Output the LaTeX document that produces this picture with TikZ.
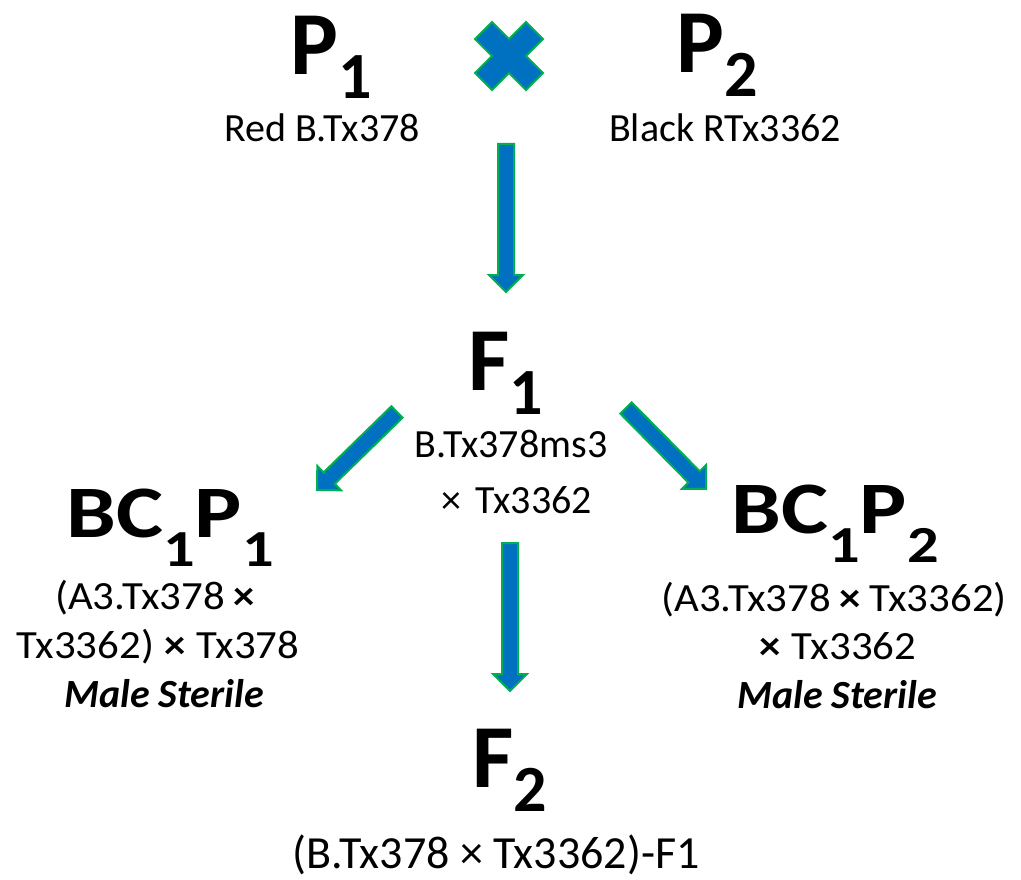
\documentclass[tikz,border=0pt]{standalone}
\usepackage{fontspec}
\setmainfont{Carlito}
\usetikzlibrary{calc}

\definecolor{arrowblue}{RGB}{0,112,192}
\definecolor{arrowgreen}{RGB}{0,176,80}

% generation symbol with a lowered subscript
\newcommand\genlabel[2]{#1\raisebox{-24pt}{\fontsize{66}{66}\selectfont #2}}
% backcross symbol BC1Px
\newcommand\bclabel[1]{\scalebox{1.2}[1]{BC\raisebox{-29pt}{\fontsize{52}{52}\selectfont 1}P\raisebox{-29pt}{\fontsize{52}{52}\selectfont #1}}}
% slightly wide lines under the backcross symbols
\newcommand\wideline[1]{\scalebox{1.07}[1]{#1}}

\tikzset{
  biglabel/.style={inner sep=0pt, anchor=base, font=\fontsize{90}{90}\selectfont\bfseries},
  bclbl/.style={inner sep=0pt, anchor=base, font=\fontsize{74}{74}\selectfont\bfseries},
  smalltext/.style={inner sep=0pt, anchor=base, font=\fontsize{40}{48}\selectfont},
  steriletext/.style={inner sep=0pt, anchor=base, font=\fontsize{40}{48}\selectfont\bfseries\itshape},
  crossmark/.style={draw=arrowgreen, fill=arrowblue, line width=2pt, line join=miter},
  fatarrow/.style={draw=arrowgreen, fill=arrowblue, line width=2pt, line join=miter,
    to path={
      ($(\tikztostart)!8pt!90:(\tikztotarget)$)
      -- ($(\tikztotarget)!17pt!(\tikztostart)!8pt!-90:(\tikztostart)$)
      -- ($(\tikztotarget)!17pt!(\tikztostart)!17pt!-90:(\tikztostart)$)
      -- (\tikztotarget)
      -- ($(\tikztotarget)!17pt!(\tikztostart)!17pt!90:(\tikztostart)$)
      -- ($(\tikztotarget)!17pt!(\tikztostart)!8pt!90:(\tikztostart)$)
      -- ($(\tikztostart)!8pt!-90:(\tikztotarget)$)
      -- cycle}}
}

\begin{document}
\begin{tikzpicture}[x=1pt,y=-1pt]
\useasboundingbox (0,0) rectangle (1021,880);

% parents
\node[biglabel] (p1) at (331,75) {\genlabel{P}{1}};
\node[smalltext] (p1name) at (322,142) {Red B.Tx378};
\node[biglabel] (p2) at (717,73) {\genlabel{P}{2}};
\node[smalltext] (p2name) at (725,142) {Black RTx3362};

% cross symbol between the parents
\begin{scope}[shift={(509,56)}, rotate=45]
  \filldraw[crossmark] (-12,-36) -- (12,-36) -- (12,-12) -- (36,-12) -- (36,12)
    -- (12,12) -- (12,36) -- (-12,36) -- (-12,12) -- (-36,12) -- (-36,-12)
    -- (-12,-12) -- cycle;
\end{scope}

% first filial generation
\node[biglabel] (f1) at (506,390) {\genlabel{F}{1}};
\node[smalltext] (f1a) at (511,457) {B.Tx378ms3};
\node[smalltext] (f1b) at (517,513) {×\hspace{14pt}Tx3362};

% backcrosses
\node[bclbl] (bc1) at (170,537) {\bclabel{1}};
\node[smalltext] (bc1a) at (155,609) {\wideline{(A3.Tx378\hspace{8pt}\textbf{×}}};
\node[smalltext] (bc1b) at (158,658) {\wideline{Tx3362)\hspace{10pt}\textbf{×}\hspace{10pt}Tx378}};
\node[steriletext] (bc1c) at (164,707) {Male Sterile};

\node[bclbl] (bc2) at (835,533) {\bclabel{2}};
\node[smalltext] (bc2a) at (834,611) {\wideline{(A3.Tx378\hspace{8pt}\textbf{×}\hspace{8pt}Tx3362)}};
\node[smalltext] (bc2b) at (838,659) {\wideline{\textbf{×}\hspace{10pt}Tx3362}};
\node[steriletext] (bc2c) at (837,708) {Male Sterile};

% second filial generation
\node[biglabel] (f2) at (510,787) {\genlabel{F}{2}};
\node[smalltext, font=\fontsize{46}{54}\selectfont] (f2a) at (496,868) {(B.Tx378 × Tx3362)-F1};

% arrow end points
\coordinate (a1s) at (506,144);
\coordinate (a1e) at (506,292);
\coordinate (a2s) at (397,412);
\coordinate (a2e) at (317,490);
\coordinate (a3s) at (626,408);
\coordinate (a3e) at (706,489);
\coordinate (a4s) at (510,543);
\coordinate (a4e) at (510,691);

\draw[fatarrow] (a1s) to (a1e);
\draw[fatarrow] (a2s) to (a2e);
\draw[fatarrow] (a3s) to (a3e);
\draw[fatarrow] (a4s) to (a4e);
\end{tikzpicture}
\end{document}
